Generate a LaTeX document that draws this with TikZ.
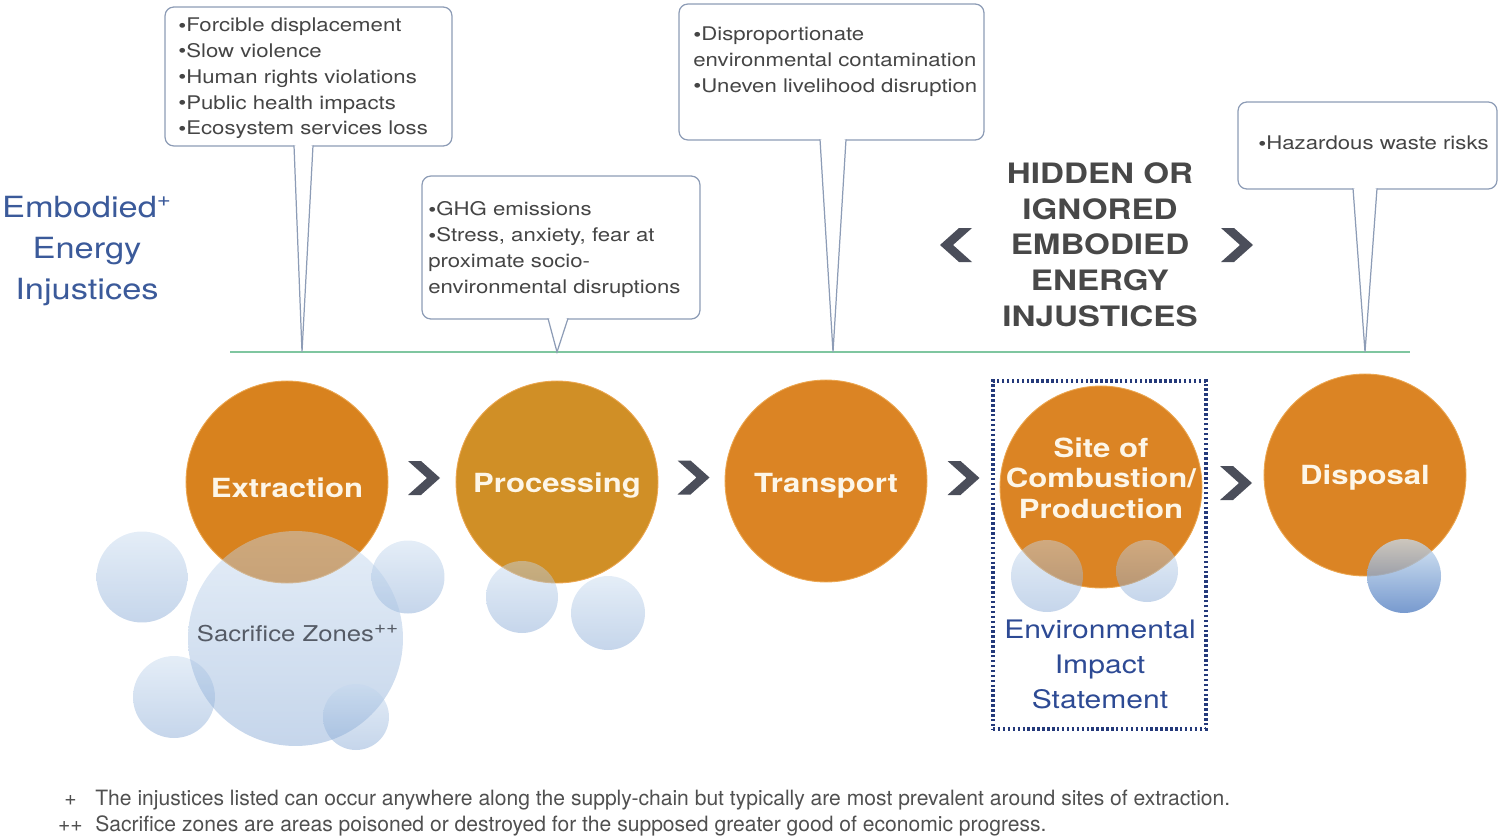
\documentclass[tikz,border=0pt]{standalone}
\usepackage{fontspec}
\setmainfont{TeX Gyre Heros}[FakeStretch=1.18]
\newfontfamily\footfont{TeX Gyre Heros}
\usetikzlibrary{calc}
\definecolor{calloutborder}{HTML}{8D9CB6}
\definecolor{calltext}{HTML}{454545}
\definecolor{embblue}{HTML}{3B5A9A}
\definecolor{eisblue}{HTML}{2D4A94}
\definecolor{eisdot}{HTML}{24397A}
\definecolor{hidgray}{HTML}{484848}
\definecolor{chevgray}{HTML}{4B4E5A}
\definecolor{lineclr}{HTML}{7FC6A0}
\definecolor{orA}{HTML}{D8821E}
\definecolor{orB}{HTML}{D08F26}
\definecolor{orC}{HTML}{DB8424}
\definecolor{orEdge}{HTML}{EBA650}
\definecolor{stagewhite}{HTML}{FDF6E8}
\definecolor{sacgray}{HTML}{555B66}
\definecolor{foottext}{HTML}{505050}
\definecolor{bubtop}{HTML}{C4D8EE}
\definecolor{bubbot}{HTML}{7FA3D2}
\definecolor{dbubtop}{HTML}{C8DDF0}
\definecolor{dbubbot}{HTML}{4A78BE}
\newcommand\bul{\raisebox{-0.3pt}{\fontsize{11}{11}\selectfont •}}
\begin{document}
\begin{tikzpicture}[x=0.02cm,y=-0.02cm,
  callout/.style={draw=calloutborder, fill=white, rounded corners=5pt, line width=0.7pt, inner sep=0},
  pointer/.style={draw=calloutborder, line width=0.7pt, fill=white},
  ctext/.style={anchor=north west, inner sep=0, align=left, text=calltext, font=\fontsize{10.7}{14.7}\selectfont},
  stage/.style={circle, inner sep=0, minimum size=4.04cm, draw=orEdge, line width=0.5pt},
  stagetext/.style={text=stagewhite, font=\bfseries\fontsize{15}{17.3}\selectfont, align=center, inner sep=0},
  bubble/.style={top color=bubtop, bottom color=bubbot, opacity=0.45},
  dbubble/.style={top color=dbubtop, bottom color=dbubbot, opacity=0.75},
  chev/.pic={\fill[chevgray] (-16,-17) -- (-3,-17) -- (16,0) -- (-3,17) -- (-16,17) -- (3,0) -- cycle;},
  foot/.style={inner sep=0, text=foottext, font=\footfont\fontsize{12}{14}\selectfont}
]
\useasboundingbox (0,0) rectangle (1500,838);

% timeline
\coordinate (L) at (230,352);
\coordinate (R) at (1410,352);
\draw[lineclr, line width=1.7pt] (L) -- (R);
\coordinate (t1) at (302,352);
\coordinate (t2) at (557,352);
\coordinate (t3) at (833,352);
\coordinate (t4) at (1365,352);

% callouts
\node[callout, minimum width=5.74cm, minimum height=2.78cm] (c1) at (308.5,76.5) {};
\path[pointer] (294,145.4) -- (t1) -- (313,145.4);
\fill[white] (295,144) -- (302,160) -- (312,144) -- cycle;
\node[ctext] (c1t) at (178,17.5) {\bul Forcible displacement\\\bul Slow violence\\\bul Human rights violations\\\bul Public health impacts\\\bul Ecosystem services loss};

\node[callout, minimum width=5.56cm, minimum height=2.86cm] (c2) at (561,247.5) {};
\path[pointer] (548,318.4) -- (t2) -- (568,318.4);
\fill[white] (549,317) -- (557,330) -- (567,317) -- cycle;
\node[ctext] (c2t) at (428,201.5) {\bul GHG emissions\\\bul Stress, anxiety, fear at\\proximate socio-\\environmental disruptions};

\node[callout, minimum width=6.10cm, minimum height=2.72cm] (c3) at (831.5,72) {};
\path[pointer] (820,139.4) -- (t3) -- (846,139.4);
\fill[white] (821,138) -- (833,160) -- (845,138) -- cycle;
\node[ctext] (c3t) at (693,26.5) {\bul Disproportionate\\environmental contamination\\\bul Uneven livelihood disruption};

\node[callout, minimum width=5.18cm, minimum height=1.74cm] (c4) at (1367.5,145.5) {};
\path[pointer] (1353,188.4) -- (t4) -- (1377,188.4);
\fill[white] (1354,187) -- (1365,205) -- (1376,187) -- cycle;
\node[ctext] (c4t) at (1258,135.5) {\bul Hazardous waste risks};

% left title
\node[anchor=north, align=center, inner sep=0, text=embblue, font=\fontsize{16.6}{23.2}\selectfont] (emb) at (87,196) {Embodied\textsuperscript{+}\\Energy\\Injustices};

% hidden title
\node[anchor=north, align=center, inner sep=0, text=hidgray, font=\bfseries\fontsize{16}{20.4}\selectfont] (hid) at (1100,162) {HIDDEN OR\\IGNORED\\EMBODIED\\ENERGY\\INJUSTICES};
\pic[xscale=-1] at (956,245) {chev};
\pic at (1237,245) {chev};

% dotted EIS box
\node[draw=eisdot, line width=1.8pt, dash pattern=on 1.4pt off 1.4pt, minimum width=4.26cm, minimum height=6.96cm, inner sep=0] (eis) at (1099.5,555) {};

% stage circles
\node[stage, fill=orA] (ext) at (287,482) {};
\node[stage, fill=orB] (proc) at (557,482) {};
\node[stage, fill=orC] (trans) at (826,481) {};
\node[stage, fill=orC] (site) at (1101,487) {};
\node[stage, fill=orC] (disp) at (1365,475) {};

% chevrons between stages
\pic at ($(ext.center)!0.5!(proc.center)+(2,-4)$) {chev};
\pic at ($(proc.center)!0.5!(trans.center)+(2,-4)$) {chev};
\pic at ($(trans.center)!0.5!(site.center)+(0,-6)$) {chev};
\pic at ($(site.center)!0.5!(disp.center)+(3,2)$) {chev};

% bubbles
\shade[bubble] (142,577) circle[radius=0.91cm];
\shade[bubble] (408,577) circle[radius=0.73cm];
\shade[bubble] (174,697) circle[radius=0.82cm];
\shade[bubble] (295.5,638.5) circle[radius=2.15cm];
\shade[bubble] (356,717) circle[radius=0.66cm];
\shade[bubble] (522,597) circle[radius=0.72cm];
\shade[bubble] (608,613) circle[radius=0.74cm];
\shade[bubble] (1047,576) circle[radius=0.72cm];
\shade[bubble] (1147,571) circle[radius=0.62cm];
\shade[dbubble] (1404,576) circle[radius=0.74cm];

% stage labels
\node[stagetext, anchor=base] (extt) at (287,497) {Extraction};
\node[stagetext, anchor=base] (proct) at (557,492) {Processing};
\node[stagetext, anchor=base] (transt) at (826,492) {Transport};
\node[stagetext, anchor=north] (sitet) at (1101,437.5) {Site of\\Combustion/\\Production};
\node[stagetext, anchor=base] (dispt) at (1365,484.5) {Disposal};

\node[anchor=base, inner sep=0, text=sacgray, font=\fontsize{12.4}{14}\selectfont] (sac) at (298,641) {Sacrifice Zones\textsuperscript{\fontsize{10}{10}\selectfont ++}};
\node[anchor=north, align=center, inner sep=0, text=eisblue, font=\fontsize{14.5}{19.8}\selectfont] (eist) at (1100,620) {Environmental\\Impact\\Statement};

% footnotes
\node[foot, anchor=base east] (f1s) at (77,805) {+};
\node[foot, anchor=base west] (f1) at (95,805) {The injustices listed can occur anywhere along the supply-chain but typically are most prevalent around sites of extraction.};
\node[foot, anchor=base east] (f2s) at (83,831) {++};
\node[foot, anchor=base west] (f2) at (95,831) {Sacrifice zones are areas poisoned or destroyed for the supposed greater good of economic progress.};
\end{tikzpicture}
\end{document}
